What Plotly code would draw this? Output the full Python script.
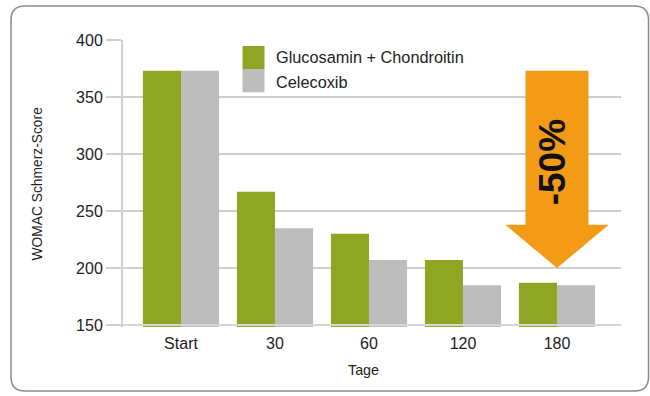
import plotly.graph_objects as go

# Data
categories = ["Start", "30", "60", "120", "180"]
series_names = ["Glucosamin + Chondroitin", "Celecoxib"]
glucosamin = [373, 267, 230, 207, 187]
celecoxib = [373, 235, 207, 185, 185]
y_ticks = [150, 200, 250, 300, 350, 400]
arrow_label = "-50%"
arrow_tip_value = 200
arrow_head_value = 238

GREEN = "#8FA624"
GREY = "#BDBDBD"
ORANGE = "#F39A17"
GRID = "#CFCFCF"
FONT = "Liberation Sans, Arial, sans-serif"

W, H = 650, 396
ML, MR, MT, MB = 123, 29, 40, 69
x_idx = list(range(len(categories)))
x_range = [-0.617, 4.681]
y_range = [148.3, 400]

fig = go.Figure()
for name, vals, col in [(series_names[0], glucosamin, GREEN),
                        (series_names[1], celecoxib, GREY)]:
    fig.add_trace(go.Bar(x=x_idx, y=vals, name=name, marker_color=col,
                         marker_line_width=0, showlegend=False))


def px_x(px):
    return (px - ML) / (W - ML - MR)


def px_y(py):
    return 1 - (py - MT) / (H - MT - MB)


shapes = []

# Rounded frame around the chart
x0, x1, y0, y1, r = 11, 648.5, 6, 391, 14
frame = (f"M {px_x(x0 + r)},{px_y(y0)} L {px_x(x1 - r)},{px_y(y0)} "
         f"Q {px_x(x1)},{px_y(y0)} {px_x(x1)},{px_y(y0 + r)} "
         f"L {px_x(x1)},{px_y(y1 - r)} Q {px_x(x1)},{px_y(y1)} {px_x(x1 - r)},{px_y(y1)} "
         f"L {px_x(x0 + r)},{px_y(y1)} Q {px_x(x0)},{px_y(y1)} {px_x(x0)},{px_y(y1 - r)} "
         f"L {px_x(x0)},{px_y(y0 + r)} Q {px_x(x0)},{px_y(y0)} {px_x(x0 + r)},{px_y(y0)} Z")
shapes.append(dict(type="path", path=frame, xref="paper", yref="paper",
                   line=dict(color="#8A8A8A", width=1.5), layer="below"))

# Baseline drawn over the bars
shapes.append(dict(type="line", xref="paper", yref="y", x0=0, x1=1,
                   y0=y_ticks[0], y1=y_ticks[0],
                   line=dict(color="#D6D6D6", width=2), layer="above"))

# Arrow from the starting level down to the last time point
cx = x_idx[-1]
sw, hw = 0.335, 0.55
top = glucosamin[0]
arrow = (f"M {cx - sw},{top} L {cx + sw},{top} L {cx + sw},{arrow_head_value} "
         f"L {cx + hw},{arrow_head_value} L {cx},{arrow_tip_value} "
         f"L {cx - hw},{arrow_head_value} L {cx - sw},{arrow_head_value} Z")
shapes.append(dict(type="path", path=arrow, xref="x", yref="y",
                   fillcolor=ORANGE, line=dict(width=0), layer="above"))

# Legend squares
sq = [(46, 69, GREEN), (69, 92.3, GREY)]
for (ya, yb, col) in sq:
    shapes.append(dict(type="rect", xref="paper", yref="paper",
                       x0=px_x(242.5), x1=px_x(264.5), y0=px_y(yb), y1=px_y(ya),
                       fillcolor=col, line=dict(width=0)))

annotations = []
for name, yc in zip(series_names, [57, 82]):
    annotations.append(dict(text=name, xref="paper", yref="paper",
                            x=px_x(274), y=px_y(yc), xanchor="left", yanchor="middle",
                            showarrow=False, font=dict(family=FONT, size=16.3, color="#222")))

annotations.append(dict(text=arrow_label, xref="x", yref="y", x=cx - 0.05,
                        y=293, textangle=-90, showarrow=False,
                        font=dict(family=FONT, size=37, color="#111", weight="bold")))

annotations.append(dict(text="WOMAC Schmerz-Score", xref="paper", yref="paper",
                        x=px_x(37), y=px_y(183.5), textangle=-90, showarrow=False,
                        xanchor="center", yanchor="middle",
                        font=dict(family=FONT, size=13.8, color="#222")))
annotations.append(dict(text="Tage", xref="paper", yref="paper",
                        x=px_x(363), y=px_y(370), showarrow=False,
                        xanchor="center", yanchor="middle",
                        font=dict(family=FONT, size=14.3, color="#222")))

fig.update_layout(
    width=W, height=H,
    margin=dict(l=ML, r=MR, t=MT, b=MB, autoexpand=False),
    paper_bgcolor="white", plot_bgcolor="white",
    barmode="group", bargap=0.19, bargroupgap=0,
    shapes=shapes, annotations=annotations,
    font=dict(family=FONT, size=16, color="#222"),
    xaxis=dict(range=x_range, tickvals=x_idx, ticktext=categories,
               showgrid=False, zeroline=False, showline=False,
               ticks="", ticklabelstandoff=5, tickfont=dict(size=16)),
    yaxis=dict(range=y_range, tickvals=y_ticks, showgrid=True, gridcolor=GRID,
               gridwidth=2, zeroline=False, showline=True, linecolor=GRID,
               linewidth=2, ticks="outside", ticklen=15, tickcolor=GRID,
               tickwidth=2, tickfont=dict(size=16)),
)

fig.write_html("out.html")
